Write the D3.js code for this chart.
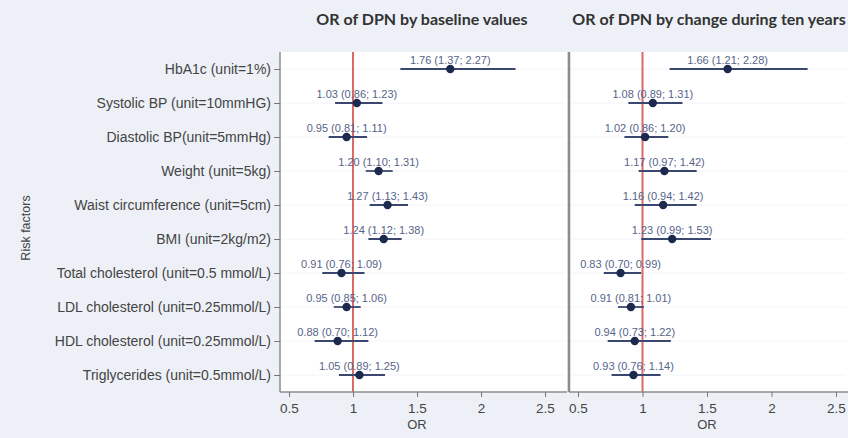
<!DOCTYPE html>
<html>
<head>
<meta charset="utf-8">
<script src="https://cdn.jsdelivr.net/npm/d3@7"></script>
<style>
  html, body { margin: 0; padding: 0; background: #edf1f7; }
  svg { display: block; }
</style>
</head>
<body>
<svg id="chart" width="848" height="438"></svg>
<script>
// risk factors, top to bottom
const factors = [
  'HbA1c (unit=1%)',
  'Systolic BP (unit=10mmHG)',
  'Diastolic BP(unit=5mmHg)',
  'Weight (unit=5kg)',
  'Waist circumference (unit=5cm)',
  'BMI (unit=2kg/m2)',
  'Total cholesterol (unit=0.5 mmol/L)',
  'LDL cholesterol (unit=0.25mmol/L)',
  'HDL cholesterol (unit=0.25mmol/L)',
  'Triglycerides (unit=0.5mmol/L)'
]

// baseline values: OR, lower, upper
const baseOR  = [1.76, 1.03, 0.95, 1.20, 1.27, 1.24, 0.91, 0.95, 0.88, 1.05]
const baseLo  = [1.37, 0.86, 0.81, 1.10, 1.13, 1.12, 0.76, 0.85, 0.70, 0.89]
const baseHi  = [2.27, 1.23, 1.11, 1.31, 1.43, 1.38, 1.09, 1.06, 1.12, 1.25]

// change during ten years
const chgOR   = [1.66, 1.08, 1.02, 1.17, 1.16, 1.23, 0.83, 0.91, 0.94, 0.93]
const chgLo   = [1.21, 0.89, 0.86, 0.97, 0.94, 0.99, 0.70, 0.81, 0.73, 0.76]
const chgHi   = [2.28, 1.31, 1.20, 1.42, 1.42, 1.53, 0.99, 1.01, 1.22, 1.14]

const xTicks = [0.5, 1, 1.5, 2, 2.5]
const titles = ['OR of DPN by baseline values', 'OR of DPN by change during ten years']

const svg = d3.select('#chart')
const plotTop = 52, plotBottom = 392
const sans = "'Liberation Sans', Arial, sans-serif"

const y = d3.scalePoint()
  .domain(factors)
  .range([plotTop, plotBottom])
  .padding(0.5)

const panels = [
  { left: 280, right: 567, x0: 289, x1: 545, title: titles[0], titleX: 422,
    or: baseOR, lo: baseLo, hi: baseHi, yAxis: true },
  { left: 569, right: 848, x0: 578, x1: 836, title: titles[1], titleX: 709,
    or: chgOR, lo: chgLo, hi: chgHi, yAxis: false }
]

const fmt = d3.format('.2f')

panels.forEach(p => {
  let g = svg.append('g')
  let x = d3.scaleLinear().domain([0.5, 2.5]).range([p.x0, p.x1])

  g.append('rect')
    .attr('x', p.left).attr('y', plotTop)
    .attr('width', p.right - p.left).attr('height', plotBottom - plotTop)
    .attr('fill', '#ffffff')

  // faint row lines
  g.selectAll('line.row')
    .data(factors)
    .join('line')
    .attr('class', 'row')
    .attr('x1', p.left).attr('x2', p.right - 2)
    .attr('y1', d => y(d)).attr('y2', d => y(d))
    .attr('stroke', '#f3f4f7').attr('stroke-width', 1)

  // reference line at OR = 1
  g.append('line')
    .attr('x1', x(1)).attr('x2', x(1))
    .attr('y1', plotTop).attr('y2', plotBottom)
    .attr('stroke', '#d96a66').attr('stroke-width', 2)

  // axes frame
  g.append('line')
    .attr('x1', p.left).attr('x2', p.left)
    .attr('y1', plotTop).attr('y2', plotBottom)
    .attr('stroke', '#8c8c8c').attr('stroke-width', p.yAxis ? 1.5 : 2.5)
  g.append('line')
    .attr('x1', p.left).attr('x2', p.right)
    .attr('y1', plotBottom).attr('y2', plotBottom)
    .attr('stroke', '#8c8c8c').attr('stroke-width', 1.5)

  let xAxis = g.append('g')
    .attr('transform', `translate(0,${plotBottom})`)
    .call(d3.axisBottom(x).tickValues(xTicks).tickSize(5).tickPadding(6).tickFormat(d3.format('~g')))
  xAxis.select('.domain').remove()
  xAxis.selectAll('.tick line').attr('stroke', '#777')
  xAxis.selectAll('.tick text')
    .attr('fill', '#444').style('font-family', sans).style('font-size', '13.5px')

  g.append('text')
    .attr('x', x(1.5)).attr('y', 429)
    .attr('text-anchor', 'middle')
    .attr('fill', '#444')
    .style('font-family', sans).style('font-size', '13px')
    .text('OR')

  if (p.yAxis) {
    let yAxis = g.append('g')
      .attr('transform', `translate(${p.left},0)`)
      .call(d3.axisLeft(y).tickSize(6).tickPadding(3))
    yAxis.select('.domain').remove()
    yAxis.selectAll('.tick line').attr('stroke', '#777')
    yAxis.selectAll('.tick text')
      .attr('fill', '#444').style('font-family', sans).style('font-size', '14px')
  }

  // title
  svg.append('text')
    .attr('x', p.titleX).attr('y', 25)
    .attr('text-anchor', 'middle')
    .attr('fill', '#333')
    .style('font-family', 'Lato, Open Sans, sans-serif').style('font-weight', 'bold').style('font-size', '16px')
    .text(p.title)

  // CI bars
  g.selectAll('line.ci')
    .data(factors)
    .join('line')
    .attr('class', 'ci')
    .attr('x1', (d, i) => x(p.lo[i])).attr('x2', (d, i) => x(p.hi[i]))
    .attr('y1', d => y(d)).attr('y2', d => y(d))
    .attr('stroke', '#3a4870').attr('stroke-width', 1.8)

  g.selectAll('circle.pt')
    .data(factors)
    .join('circle')
    .attr('class', 'pt')
    .attr('cx', (d, i) => x(p.or[i])).attr('cy', d => y(d))
    .attr('r', 4.2)
    .attr('fill', '#1b2a4e')

  g.selectAll('text.lbl')
    .data(factors)
    .join('text')
    .attr('class', 'lbl')
    .attr('x', (d, i) => x(p.or[i])).attr('y', d => y(d) - 5)
    .attr('text-anchor', 'middle')
    .attr('fill', '#56648a')
    .style('font-family', sans).style('font-size', '11px')
    .text((d, i) => `${fmt(p.or[i])} (${fmt(p.lo[i])}; ${fmt(p.hi[i])})`)
})

// y axis title
svg.append('text')
  .attr('transform', 'translate(30,228) rotate(-90)')
  .attr('text-anchor', 'middle')
  .attr('fill', '#444')
  .style('font-family', sans).style('font-size', '12.5px')
  .text('Risk factors')
</script>
</body>
</html>
